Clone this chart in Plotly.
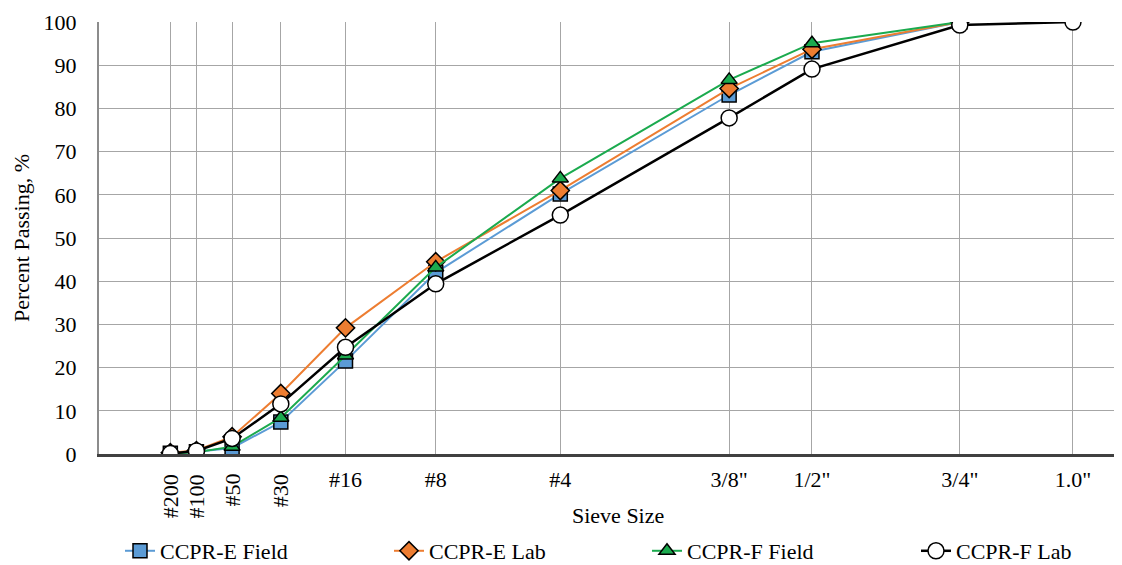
import plotly.graph_objects as go

# ---- data ----
sieve_labels = ['#200', '#100', '#50', '#30', '#16', '#8', '#4', '3/8"', '1/2"', '3/4"', '1.0"']
sieve_mm = [0.075, 0.15, 0.3, 0.6, 1.18, 2.36, 4.75, 9.5, 12.5, 19.0, 25.0]
rotated_labels = ['#200', '#100', '#50', '#30']
x_title = "Sieve Size"
y_title = "Percent Passing, %"

e_field = [0.2, 0.5, 1.4, 7.4, 21.5, 42.0, 60.2, 83.1, 93.1, 100.0]
e_lab = [0.3, 0.8, 4.0, 14.0, 29.2, 44.5, 61.0, 84.6, 93.7, 100.0]
f_field = [0.1, 0.4, 1.7, 8.4, 22.8, 43.2, 63.8, 86.6, 95.1, 100.0]
f_lab = [0.1, 0.7, 3.6, 11.6, 24.7, 39.4, 55.3, 77.8, 89.1, 99.3, 100.0]

series = [
    ("CCPR-E Field", e_field, "#5B9BD5", "square", "#5B9BD5", 14),
    ("CCPR-E Lab", e_lab, "#ED7D31", "diamond", "#ED7D31", 14),
    ("CCPR-F Field", f_field, "#1BAA4E", "triangle-up", "#1BAA4E", 14),
    ("CCPR-F Lab", f_lab, "#000000", "circle", "#FFFFFF", 16),
]
legend_px = [118, 387, 645, 914]  # left edge of each legend entry

# 0.45 power gradation scale
xs = [d ** 0.45 for d in sieve_mm]

FONT = "Liberation Serif, Times New Roman, serif"
W, H = 1114, 557  # page body adds 8px offset
fig = go.Figure()
legend_layout = {}
for i, (name, vals, lc, sym, fc, sz) in enumerate(series):
    lg = "legend" if i == 0 else f"legend{i+1}"
    fig.add_trace(go.Scatter(
        x=xs[:len(vals)], y=vals, name=name, mode="lines+markers", legend=lg,
        line=dict(color=lc, width=2.5 if lc == "#000000" else 2),
        marker=dict(symbol=sym, size=sz, color=fc, line=dict(color="#000000", width=1.5)),
    ))
    legend_layout[lg] = dict(
        xref="container", yref="paper",
        x=(legend_px[i] - 6) / W, xanchor="left",
        y=-0.2245, yanchor="middle",
        orientation="h", bgcolor="rgba(0,0,0,0)",
        font=dict(family=FONT, size=22, color="#000000"), itemwidth=30,
    )

ticktext = ["" if l in rotated_labels else l for l in sieve_labels]
for l, x in zip(sieve_labels, xs):
    if l in rotated_labels:
        fig.add_annotation(x=x, xref="x", y=0, yref="paper", yshift=-18,
                           text=l, textangle=-90, showarrow=False,
                           xanchor="center", yanchor="top",
                           font=dict(family=FONT, size=22, color="#000000"))

# axis titles
fig.add_annotation(x=0.5, xref="paper", xshift=7, y=0, yref="paper", yshift=-61,
                   text=x_title, showarrow=False, xanchor="center", yanchor="middle",
                   font=dict(family=FONT, size=22, color="#000000"))
fig.add_annotation(x=0, xref="paper", xshift=-78, y=0.5, yref="paper",
                   text=y_title, textangle=-90, showarrow=False,
                   xanchor="center", yanchor="middle",
                   font=dict(family=FONT, size=22, color="#000000"))

fig.update_layout(
    width=W, height=H,
    margin=dict(l=91, r=0, t=14, b=111, autoexpand=False),
    paper_bgcolor="white", plot_bgcolor="white",
    font=dict(family=FONT, size=22, color="#000000"),
    showlegend=True,
    xaxis=dict(range=[0, 4.471], tickmode="array", tickvals=xs, ticktext=ticktext,
               showgrid=True, gridcolor="#A6A6A6", gridwidth=1.2,
               zeroline=False, showline=True, linecolor="#404040", linewidth=3,
               ticks="", ticklabelstandoff=4, automargin=False),
    yaxis=dict(range=[0, 100], tickmode="array", tickvals=list(range(0, 101, 10)),
               showgrid=True, gridcolor="#A6A6A6", gridwidth=1.2,
               zeroline=False, showline=True, linecolor="#8C8C8C", linewidth=2,
               ticks="", ticklabelstandoff=16, automargin=False),
    **legend_layout,
)

fig.write_html("out.html")
